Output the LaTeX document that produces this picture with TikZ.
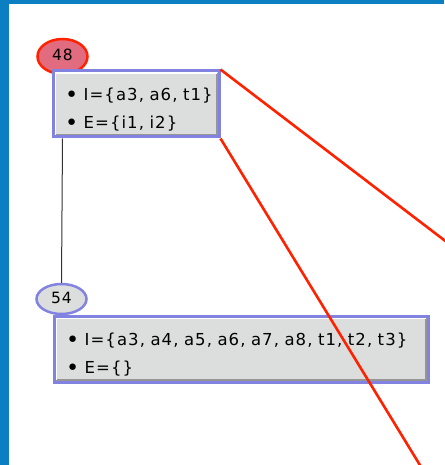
\documentclass[tikz,border=0pt]{standalone}
\usepackage{fontspec}
\setmainfont{DejaVu Sans}
\newfontfamily\boxfont{DejaVu Sans}[LetterSpace=6.5]
\usetikzlibrary{shapes.geometric, calc}
\definecolor{framecolor}{RGB}{11,127,193}
\definecolor{lavender}{RGB}{130,130,225}
\definecolor{boxgray}{RGB}{220,221,221}
\definecolor{shadegray}{RGB}{150,150,150}
\definecolor{nodepink}{RGB}{225,108,128}
\definecolor{linered}{RGB}{255,34,0}
\newcommand{\itembul}{\raisebox{-2pt}{\scalebox{1.35}{\textbullet}}\ }

\begin{document}
\begin{tikzpicture}[x=1pt, y=-1pt,
    num/.style={ellipse, draw, minimum width=50pt, minimum height=34pt,
                inner sep=0pt, line width=2.5pt, font=\boxfont\fontsize{15.5}{17}\selectfont},
    setbox/.style={draw=lavender, line width=3pt, fill=boxgray,
                   anchor=north west, minimum height=66pt, inner xsep=12pt,
                   inner ysep=3pt, align=left, font=\boxfont\fontsize{16.5}{28}\selectfont,
                   path picture={
                     \draw[shadegray, line width=1.5pt]
                       ([xshift=2.2pt,yshift=2.2pt]path picture bounding box.south west)
                    -- ([xshift=-2.2pt,yshift=2.2pt]path picture bounding box.south east)
                    -- ([xshift=-2.2pt,yshift=-2.2pt]path picture bounding box.north east);
                     \draw[white, line width=1.5pt]
                       ([xshift=2.2pt,yshift=2.2pt]path picture bounding box.south west)
                    -- ([xshift=2.2pt,yshift=-2.2pt]path picture bounding box.north west)
                    -- ([xshift=-2.2pt,yshift=-2.2pt]path picture bounding box.north east);}},
    link/.style={draw=black!80, line width=1pt},
    cut/.style={draw=linered, line width=2.6pt}
]

% cadre
\fill[framecolor] (0,0) rectangle (444,465);
\fill[white] (9,4) rectangle (444,465);
\useasboundingbox (0,0) rectangle (444,465);

% noeud 48
\node[num, draw=linered, fill=nodepink, minimum height=35pt] (n48) at (62.5,56.5) {\raisebox{3pt}{48}};
\node[setbox, text width=142pt] (box48) at (51.5,69.5)
    {\rule{0pt}{24pt}\mbox{\itembul I=\{a3, a6, t1\}}\\\mbox{\itembul E=\{i1, i2\}}};

% noeud 54
\node[num, draw=lavender, fill=boxgray, minimum height=30pt] (n54) at (61.5,299) {\raisebox{2pt}{54}};
\node[setbox, text width=350pt] (box54) at (52.5,314.5)
    {\rule{0pt}{24pt}\mbox{\itembul I=\{a3, a4, a5, a6, a7, a8, t1, t2, t3\}}\\\mbox{\itembul E=\{\}}};

% arete
\draw[link] (n48 |- box48.south) -- (n54.north);

% coupes
\coordinate (endA) at (454,247.6);
\coordinate (endB) at (426,475);
\draw[cut] (box48.north east) -- (endA);
\draw[cut] (box48.south east) -- (endB);

\end{tikzpicture}
\end{document}
